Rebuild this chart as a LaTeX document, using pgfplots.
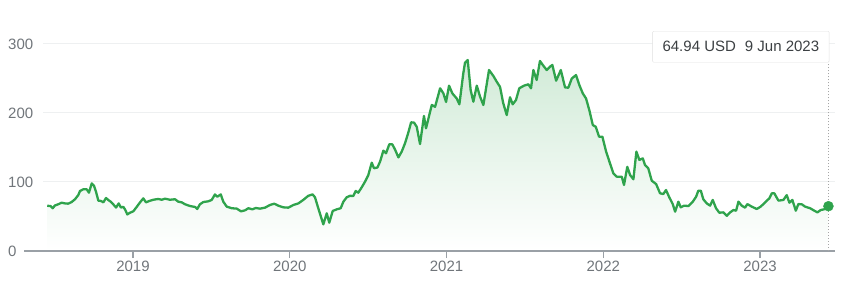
\documentclass[border=0pt]{standalone}
\usepackage{pgfplots}
\pgfplotsset{compat=1.18}
\usepackage{pgfplotstable}
\usepackage{fontspec}
\setmainfont{Liberation Sans}
\definecolor{gline}{RGB}{47,163,76}
\definecolor{labgray}{RGB}{112,117,122}
\definecolor{basegray}{RGB}{154,160,166}
\definecolor{gridgray}{RGB}{238,240,241}
\definecolor{tiptext}{RGB}{60,64,67}
\pgfplotstableread{
year value
2018.453 65.7
2018.475 65.0
2018.488 62.0
2018.502 66.0
2018.523 67.7
2018.545 70.0
2018.566 69.0
2018.587 68.6
2018.609 71.0
2018.630 75.0
2018.651 81.0
2018.662 87.0
2018.683 89.4
2018.705 89.4
2018.719 84.5
2018.737 98.0
2018.751 94.7
2018.764 86.0
2018.779 73.0
2018.796 72.5
2018.811 70.5
2018.828 76.8
2018.842 74.0
2018.858 71.5
2018.874 67.7
2018.892 63.0
2018.909 69.0
2018.923 63.0
2018.938 64.0
2018.949 60.4
2018.964 53.0
2018.981 55.5
2019.002 57.5
2019.024 64.0
2019.045 70.5
2019.066 76.3
2019.083 70.5
2019.104 72.5
2019.130 74.3
2019.161 75.4
2019.183 74.3
2019.204 75.8
2019.236 74.3
2019.268 75.0
2019.289 71.5
2019.311 70.5
2019.332 67.7
2019.364 65.2
2019.396 63.8
2019.410 60.9
2019.427 67.7
2019.449 71.0
2019.480 72.0
2019.502 74.0
2019.523 82.0
2019.538 78.7
2019.560 82.0
2019.576 71.5
2019.598 64.3
2019.630 62.0
2019.662 61.4
2019.689 57.5
2019.715 59.0
2019.736 62.0
2019.761 60.4
2019.783 62.3
2019.810 61.4
2019.842 62.8
2019.874 66.7
2019.901 68.6
2019.927 65.7
2019.959 63.3
2019.991 62.8
2020.023 66.7
2020.055 69.0
2020.086 74.0
2020.118 80.0
2020.146 82.0
2020.161 77.8
2020.182 62.0
2020.214 38.6
2020.236 54.6
2020.252 41.0
2020.274 58.0
2020.300 60.4
2020.325 62.0
2020.342 71.5
2020.363 77.8
2020.384 80.0
2020.405 79.7
2020.421 87.0
2020.437 84.5
2020.459 92.3
2020.480 100.4
2020.501 110.0
2020.523 128.0
2020.537 120.0
2020.559 121.0
2020.576 129.5
2020.597 145.4
2020.614 141.6
2020.635 154.6
2020.654 154.6
2020.671 147.3
2020.693 135.7
2020.714 144.0
2020.735 156.0
2020.756 171.4
2020.774 186.5
2020.793 186.0
2020.810 180.0
2020.831 155.0
2020.856 195.7
2020.869 177.8
2020.906 211.6
2020.927 209.0
2020.959 235.8
2020.980 228.5
2020.997 216.0
2021.016 239.6
2021.037 228.5
2021.065 221.0
2021.082 212.6
2021.107 257.5
2021.118 273.0
2021.135 276.8
2021.154 233.0
2021.171 216.4
2021.193 239.6
2021.214 223.6
2021.235 211.6
2021.271 262.3
2021.299 253.6
2021.320 245.4
2021.341 238.0
2021.362 214.0
2021.384 197.0
2021.405 222.8
2021.422 212.6
2021.443 218.8
2021.464 235.8
2021.494 239.6
2021.522 241.6
2021.539 235.8
2021.554 262.3
2021.575 247.8
2021.596 275.4
2021.614 269.6
2021.639 262.3
2021.665 268.0
2021.675 269.6
2021.699 246.8
2021.729 262.3
2021.756 237.0
2021.777 236.7
2021.799 250.0
2021.826 255.0
2021.847 240.6
2021.869 228.5
2021.890 221.0
2021.911 204.0
2021.933 182.6
2021.952 180.0
2021.973 165.7
2021.994 165.7
2022.018 144.0
2022.039 129.5
2022.064 112.6
2022.086 107.7
2022.118 107.7
2022.132 95.7
2022.153 122.0
2022.171 110.0
2022.192 104.0
2022.211 144.0
2022.230 132.0
2022.252 134.3
2022.266 124.6
2022.287 119.8
2022.309 101.9
2022.337 97.0
2022.362 83.6
2022.383 82.6
2022.400 88.4
2022.421 77.8
2022.443 68.0
2022.458 57.0
2022.479 71.5
2022.494 63.3
2022.515 65.7
2022.543 65.2
2022.571 71.5
2022.592 78.7
2022.606 87.4
2022.622 87.4
2022.638 75.0
2022.660 69.0
2022.681 65.7
2022.698 74.0
2022.719 62.0
2022.740 55.5
2022.766 56.0
2022.788 51.0
2022.809 56.0
2022.830 59.4
2022.847 58.4
2022.862 71.5
2022.883 65.7
2022.904 62.8
2022.919 68.0
2022.947 64.3
2022.979 60.9
2023.004 64.3
2023.032 70.5
2023.059 76.3
2023.075 83.6
2023.091 83.6
2023.117 73.0
2023.149 74.0
2023.170 81.0
2023.187 70.0
2023.206 74.0
2023.228 58.4
2023.244 68.0
2023.266 67.7
2023.287 64.3
2023.319 62.0
2023.346 58.4
2023.366 56.0
2023.387 59.4
2023.408 60.4
2023.436 64.94
}\pricedata
\begin{document}
\begin{tikzpicture}
\path (0,0) rectangle (850bp,293bp);
\begin{axis}[
  at={(43bp,42bp)}, anchor=south west,
  scale only axis, width=792bp, height=207bp,
  xmin=2018.426, xmax=2023.478, ymin=0, ymax=300,
  clip=false,
  axis line style={draw=none},
  xtick={2019,2020,2021,2022,2023},
  xticklabels={2019,2020,2021,2022,2023},
  ytick={0,100,200,300},
  scaled ticks=false,
  /pgf/number format/assume math mode=true,
  tick label style={font=\fontsize{15bp}{18bp}\selectfont, text=labgray},
  xtick pos=lower, tick align=outside,
  major tick length=7bp,
  xtick style={draw=basegray, line width=1.3bp},
  ytick style={draw=none},
  ymajorgrids, grid style={draw=gridgray, line width=1bp},
  yticklabel style={anchor=west, inner sep=0pt, xshift=-28bp},
  xticklabel style={inner sep=0pt, yshift=-3bp},
]
\addplot[draw=none, top color=gline!22, middle color=gline!6, bottom color=white] table[x=year,y=value] {\pricedata} \closedcycle;
\draw[draw=basegray, line width=1.5bp] (axis cs:2018.305,0) -- (axis cs:2023.478,0);
\addplot[gray!70, dotted, line width=1bp] coordinates {(2023.436,0) (2023.436,305)};
\addplot[gline, line width=2.3bp, line join=round] table[x=year,y=value] {\pricedata};
\addplot[only marks, mark=*, mark size=5bp, gline] coordinates {(2023.436,64.94)};
\node[anchor=north east, fill=white, draw=black!12, rounded corners=1bp,
      minimum height=31bp, inner xsep=10bp, text=tiptext,
      font=\fontsize{15bp}{18bp}\selectfont]
  at (axis cs:2023.442,318.8) {64.94 USD\hspace{9bp}9 Jun 2023};
\end{axis}
\end{tikzpicture}
\end{document}
